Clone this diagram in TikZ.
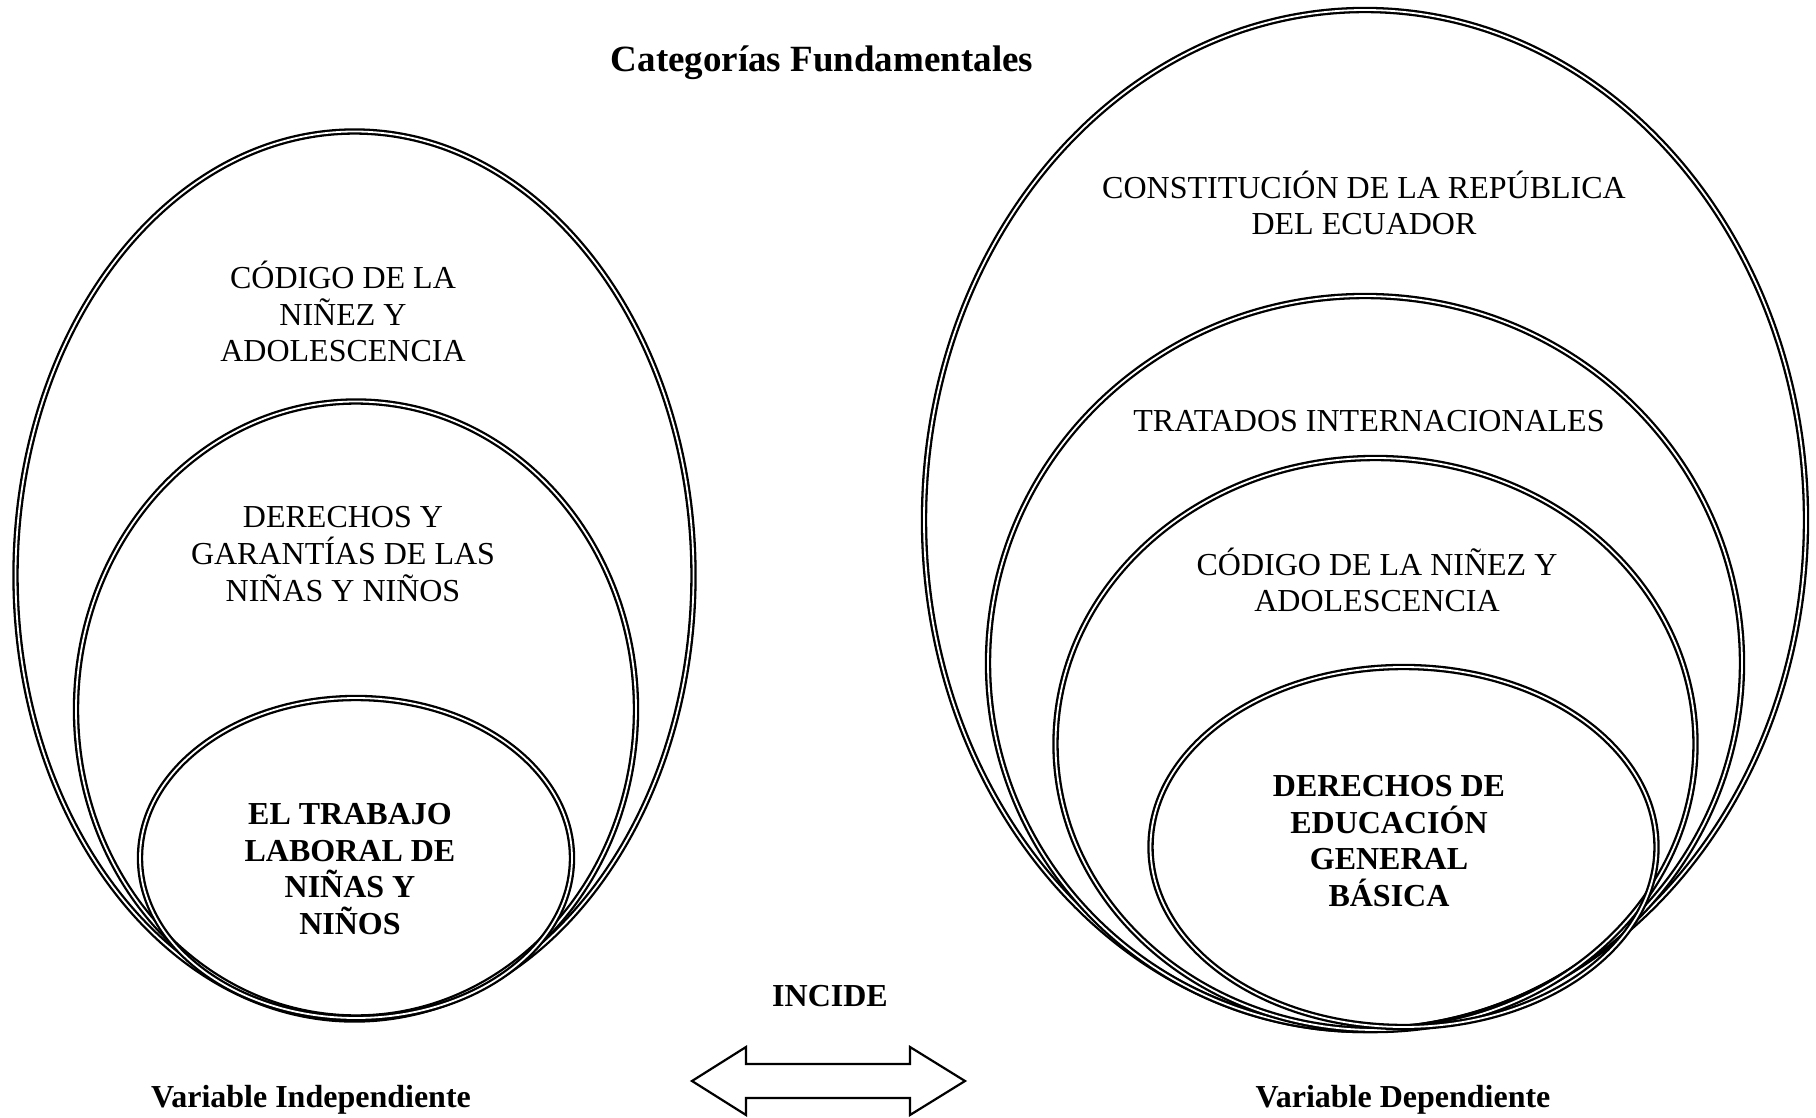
\documentclass[tikz,border=0pt]{standalone}
\usepackage{fontspec}
\setmainfont{Liberation Serif}
\begin{document}
\begin{tikzpicture}[x=0.5pt,y=-0.5pt,
  dbl/.style={draw=black, line width=1.15pt, double=white, double distance=0.9pt},
  txt/.style={font=\fontsize{16}{18.3}\selectfont, align=center, inner sep=0pt},
  btxt/.style={font=\fontsize{16}{18.3}\selectfont\bfseries, align=center, inner sep=0pt},
  ttl/.style={font=\fontsize{18.5}{21}\selectfont\bfseries, inner sep=0pt},
  blockarrow/.style={draw=black, line width=1.1pt, fill=white, line join=miter}]
\useasboundingbox (0,0) rectangle (1816,1118);
% left group
\coordinate (l1c) at (354.5,575.5);
\coordinate (l2c) at (356,709.5);
\coordinate (l3c) at (356,858);
\draw[dbl] (l1c) ellipse [x radius=169.5pt, y radius=222pt];
\draw[dbl] (l2c) ellipse [x radius=140pt, y radius=154pt];
\draw[dbl] (l3c) ellipse [x radius=108pt, y radius=80pt];
% right group
\coordinate (r1c) at (1365,520);
\coordinate (r2c) at (1365,663);
\coordinate (r3c) at (1375.5,744);
\coordinate (r4c) at (1403.5,847);
\draw[dbl] (r1c) ellipse [x radius=220.5pt, y radius=255pt];
\draw[dbl] (r2c) ellipse [x radius=188.5pt, y radius=183.5pt];
\draw[dbl] (r3c) ellipse [x radius=160pt, y radius=143pt];
\draw[dbl] (r4c) ellipse [x radius=126.5pt, y radius=90pt];
% texts
\node[ttl] (title) at (822,63) {Categorías Fundamentales};
\node[txt] (codl) at (343,311.5) {CÓDIGO DE LA\\NIÑEZ Y\\ADOLESCENCIA};
\node[txt] (derl) at (343,554) {DERECHOS Y\\GARANTÍAS DE LAS\\NIÑAS Y NIÑOS};
\node[btxt] (trab) at (350,869) {EL TRABAJO\\LABORAL DE\\NIÑAS Y\\NIÑOS};
\node[txt] (const) at (1364,203) {CONSTITUCIÓN DE LA REPÚBLICA\\DEL ECUADOR};
\node[txt] (trat) at (1369,421) {TRATADOS INTERNACIONALES};
\node[txt] (codr) at (1377,580) {CÓDIGO DE LA NIÑEZ Y\\ADOLESCENCIA};
\node[btxt] (educ) at (1389,841) {DERECHOS DE\\EDUCACIÓN\\GENERAL\\BÁSICA};
\node[btxt] (incide) at (830,996) {INCIDE};
\node[btxt] (vind) at (311,1100) {Variable Independiente};
\node[btxt] (vdep) at (1403,1100) {Variable Dependiente};
% double block arrow
\draw[blockarrow] (692,1081) -- (746,1047) -- (746,1064) -- (910,1064) -- (910,1047)
  -- (965,1081) -- (910,1115) -- (910,1098) -- (746,1098) -- (746,1115) -- cycle;
\end{tikzpicture}
\end{document}
